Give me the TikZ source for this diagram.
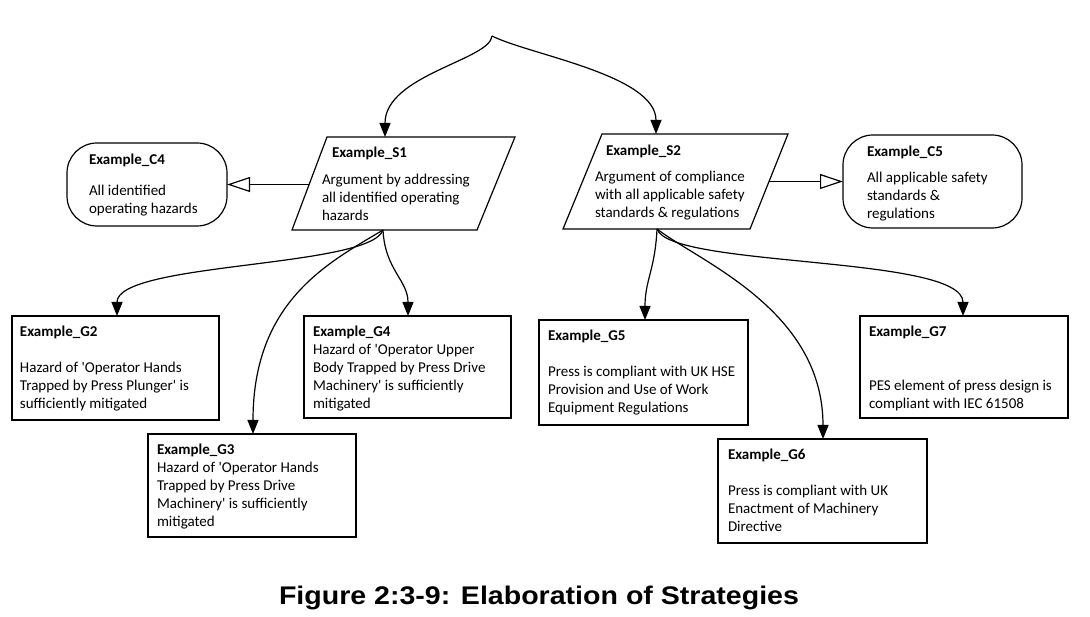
\documentclass[tikz,border=0pt]{standalone}
\usepackage{fontspec}
\usepackage{graphicx}
\setmainfont{Carlito}[Ligatures=TeXOff]
\newfontfamily\capfont{Liberation Sans}
\usetikzlibrary{arrows.meta,calc}
\newcommand{\boxtext}[5]{\parbox[c][#2pt][t]{#1pt}{\fontsize{15}{18}\selectfont\leftskip=#4pt\parindent=0pt\rightskip=0pt plus 1fil\vspace*{#3pt}\strut #5}}
\newcommand{\partext}[2]{\parbox[t]{#1pt}{\fontsize{15}{18}\selectfont\parindent=0pt\strut #2}}
\tikzset{
  gbox/.style={draw, line width=1.2pt, anchor=north west, inner sep=0pt, outer sep=0pt},
  cbox/.style={gbox, rounded corners=30pt},
  txt/.style={anchor=north west, inner sep=0pt, outer sep=0pt},
  conn/.style={line width=1.2pt, -{Triangle[length=14pt,width=11pt]}},
  ctx/.style={line width=1.2pt, -{Triangle[open,length=23pt,width=15pt]}},
  para/.style={line width=1.2pt, line join=miter},
}
\begin{document}
\begin{tikzpicture}[x=1pt,y=-1pt]
\useasboundingbox (0,0) rectangle (1090,617);

% strategies (parallelograms)
\coordinate (s1nw) at (327,137); \coordinate (s1ne) at (515,137);
\coordinate (s1se) at (477,230); \coordinate (s1sw) at (292,230);
\draw[para] (s1nw) -- (s1ne) -- (s1se) -- (s1sw) -- cycle;
\node[txt] (s1) at (322,145) {\partext{185}{\hspace*{10pt}\textbf{Example\_S1}\\[9pt]Argument by addressing\\all identified operating\\hazards}};
\coordinate (s1in) at (385,137);
\coordinate (s1out) at (383,230);
\coordinate (s1left) at (309,184.5);

\coordinate (s2nw) at (602,134); \coordinate (s2ne) at (788,134);
\coordinate (s2se) at (750,229); \coordinate (s2sw) at (563,229);
\draw[para] (s2nw) -- (s2ne) -- (s2se) -- (s2sw) -- cycle;
\node[txt] (s2) at (595,143) {\partext{185}{\hspace*{11pt}\textbf{Example\_S2}\\[8pt]Argument of compliance\\with all applicable safety\\standards \& regulations}};
\coordinate (s2in) at (656,134);
\coordinate (s2out) at (657,229);
\coordinate (s2right) at (769,181.5);

% contexts
\node[cbox] (c4) at (67,143) {\boxtext{160}{83}{9}{22}{\textbf{Example\_C4}\\[13pt]All identified\\operating hazards}};
\node[cbox] (c5) at (843,135) {\boxtext{179}{93}{9}{24}{\textbf{Example\_C5}\\[8pt]All applicable safety\\standards \&\\regulations}};

% goals
\node[gbox] (g2) at (12,316) {\boxtext{207}{104}{8}{8}{\textbf{Example\_G2}\\[18pt]Hazard of 'Operator Hands\\Trapped by Press Plunger' is\\sufficiently mitigated}};
\node[gbox] (g3) at (148,434) {\boxtext{208}{103}{8}{9}{\textbf{Example\_G3}\\Hazard of 'Operator Hands\\Trapped by Press Drive\\Machinery' is sufficiently\\mitigated}};
\node[gbox] (g4) at (304,316) {\boxtext{207}{102}{8}{9}{\textbf{Example\_G4}\\Hazard of 'Operator Upper\\Body Trapped by Press Drive\\Machinery' is sufficiently\\mitigated}};
\node[gbox] (g5) at (539,320) {\boxtext{209}{105}{8}{9}{\textbf{Example\_G5}\\[18pt]Press is compliant with UK HSE\\Provision and Use of Work\\Equipment Regulations}};
\node[gbox] (g6) at (718,439) {\boxtext{209}{104}{8}{10}{\textbf{Example\_G6}\\[18pt]Press is compliant with UK\\Enactment of Machinery\\Directive}};
\node[gbox] (g7) at (860,316) {\boxtext{208}{102}{8}{9}{\textbf{Example\_G7}\\[36pt]PES element of press design is\\compliant with IEC 61508}};

\coordinate (g2in) at ($(g2.north west)+(105,0)$);
\coordinate (g3in) at ($(g3.north west)+(105,0)$);
\coordinate (g4in) at ($(g4.north west)+(104,0)$);
\coordinate (g5in) at ($(g5.north west)+(106,0)$);
\coordinate (g6in) at ($(g6.north west)+(105,0)$);
\coordinate (g7in) at ($(g7.north west)+(103,0)$);

% top connectors
\coordinate (top) at (492,36);
\draw[conn] (top) .. controls (490,60) and (385,75) .. (s1in);
\draw[conn] (top) .. controls (530,55) and (656,75) .. (s2in);

% context connectors
\draw[ctx] (s1left) -- (c4.east);
\draw[ctx] (s2right) -- (c5.west);

% S1 -> goals
\draw[conn] (s1out) .. controls (370,268) and (117,262) .. (g2in);
\draw[conn] (s1out) .. controls (330,262) and (253,300) .. (g3in);
\draw[conn] (s1out) .. controls (385,270) and (408,280) .. (g4in);

% S2 -> goals
\draw[conn] (s2out) .. controls (655,270) and (645,280) .. (g5in);
\draw[conn] (s2out) .. controls (700,262) and (823,310) .. (g6in);
\draw[conn] (s2out) .. controls (670,268) and (963,255) .. (g7in);

% caption
\node[anchor=base, inner sep=0pt] (cap) at (539,604) {\scalebox{1.12}[1]{\capfont\bfseries\fontsize{25.5}{28}\selectfont Figure 2:3-9: Elaboration of Strategies}};
\end{tikzpicture}
\end{document}
